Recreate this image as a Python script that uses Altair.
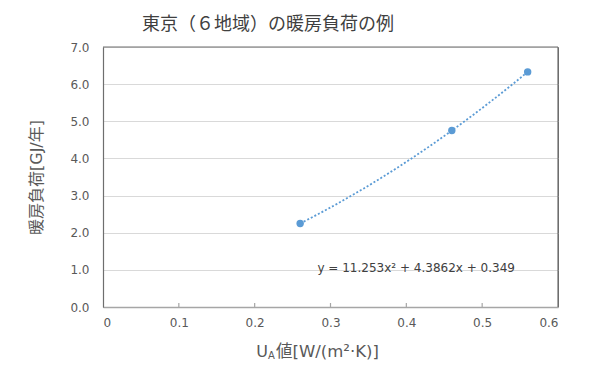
import altair as alt
import pandas as pd

ua_values = [0.26, 0.46, 0.56]
heating_load = [2.25, 4.75, 6.33]
equation_text = ["y = 11.253x² + 4.3862x + 0.349"]
equation_pos_x = [0.413]
equation_pos_y = [1.05]
x_ticks = [0, 0.1, 0.2, 0.3, 0.4, 0.5, 0.6]
y_ticks = [0, 1, 2, 3, 4, 5, 6, 7]

df = pd.DataFrame({"ua": ua_values, "load": heating_load})
eq_df = pd.DataFrame({"x": equation_pos_x, "y": equation_pos_y, "t": equation_text})
tick_df = pd.DataFrame({"v": x_ticks[1:-1]})
frame_df = pd.DataFrame({"x0": [0.0], "x1": [0.6], "y0": [0.0], "y1": [7.0]})

FONT = "DejaVu Sans, Noto Sans CJK JP"
BLUE = "#5B9BD5"
FRAME = "#6e6e6e"
W, H = 455, 260

xscale = alt.Scale(domain=[0, 0.6], nice=False, zero=True)
yscale = alt.Scale(domain=[0, 7], nice=False, zero=True)

xaxis = alt.Axis(values=x_ticks, labelExpr="datum.value == 0 ? '0' : format(datum.value, '.1f')",
                 grid=False, ticks=False, labelPadding=10, title=None, labelOverlap=False,
                 labelFontSize=12, labelColor="#595959", labelFont=FONT,
                 domainColor="#a6a6a6", domainWidth=1.5)
yaxis = alt.Axis(values=y_ticks, format=".1f", grid=True, gridColor="#d9d9d9",
                 ticks=False, labelPadding=14, title="暖房負荷[GJ/年]", labelOverlap=False,
                 tickCount=8,
                 titleFontSize=16, titleFontWeight="normal", titleColor="#595959", titleFont=FONT,
                 titlePadding=25,
                 labelFontSize=12, labelColor="#595959", labelFont=FONT,
                 domainColor=FRAME, domainWidth=1.2)

points = alt.Chart(df).mark_circle(size=55, color=BLUE, opacity=1).encode(
    x=alt.X("ua:Q", scale=xscale, axis=xaxis),
    y=alt.Y("load:Q", scale=yscale, axis=yaxis),
)

trend = alt.Chart(df).transform_regression(
    "ua", "load", method="poly", order=2, extent=[0.26, 0.56]
).mark_line(color=BLUE, strokeDash=[2, 2], strokeWidth=1.8).encode(
    x=alt.X("ua:Q", scale=xscale, axis=xaxis),
    y=alt.Y("load:Q", scale=yscale, axis=yaxis),
)

eq = alt.Chart(eq_df).mark_text(fontSize=12, color="#404040", font=FONT).encode(
    x=alt.X("x:Q", scale=xscale, axis=xaxis),
    y=alt.Y("y:Q", scale=yscale, axis=yaxis),
    text="t:N",
)

xticks = alt.Chart(tick_df).mark_rule(color="#a6a6a6", strokeWidth=1.2).encode(
    x=alt.X("v:Q", scale=xscale, axis=xaxis), y=alt.value(H), y2=alt.value(H - 4))

frame_top = alt.Chart(frame_df).mark_rule(color=FRAME, strokeWidth=1.2).encode(
    x=alt.X("x0:Q", scale=xscale, axis=xaxis), x2="x1:Q",
    y=alt.Y("y1:Q", scale=yscale, axis=yaxis))
frame_right = alt.Chart(frame_df).mark_rule(color=FRAME, strokeWidth=1.2).encode(
    x=alt.X("x1:Q", scale=xscale, axis=xaxis),
    y=alt.Y("y0:Q", scale=yscale, axis=yaxis), y2="y1:Q")

xt_u = alt.Chart(eq_df).mark_text(text="U", fontSize=16, color="#595959", font=FONT,
                                 align="right", baseline="alphabetic").encode(
    x=alt.value(165), y=alt.value(310))
xt_a = alt.Chart(eq_df).mark_text(text="A", fontSize=10, color="#595959", font=FONT,
                                 align="left", baseline="alphabetic").encode(
    x=alt.value(165), y=alt.value(312))
xt_rest = alt.Chart(eq_df).mark_text(text="値[W/(m²·K)]", fontSize=16.5, color="#595959", font=FONT,
                                    align="left", baseline="alphabetic").encode(
    x=alt.value(173), y=alt.value(310))

chart = alt.layer(points, trend, eq, xticks, frame_top, frame_right, xt_u, xt_a, xt_rest).properties(
    width=W, height=H,
    title=alt.TitleParams("東京（６地域）の暖房負荷の例", fontSize=18, fontWeight="normal",
                          color="#404040", font=FONT, anchor="start", dx=113, offset=7),
    autosize=alt.AutoSizeParams(type="none"),
    padding={"left": 95, "top": 39, "right": 25, "bottom": 56},
    background="white",
).configure_view(stroke=FRAME, strokeWidth=1)

chart.save("out.html", embed_options={"renderer": "svg", "actions": False})
